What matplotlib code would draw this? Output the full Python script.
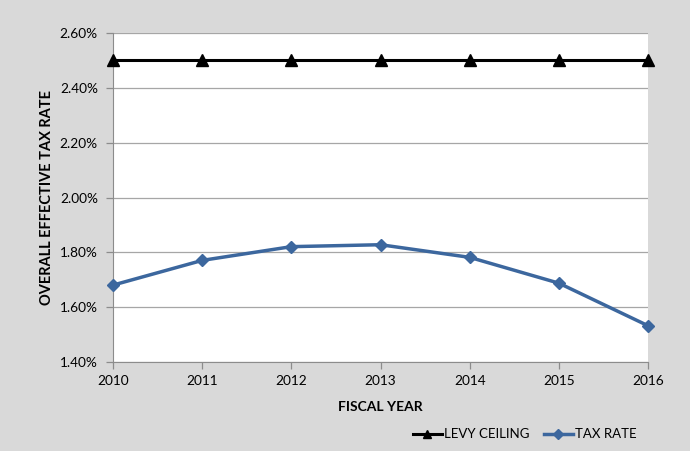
import numpy as np
import matplotlib.pyplot as plt
from matplotlib.ticker import PercentFormatter

years = [2010, 2011, 2012, 2013, 2014, 2015, 2016]
levy_ceiling = [2.50, 2.50, 2.50, 2.50, 2.50, 2.50, 2.50]
tax_rate = [1.681, 1.771, 1.821, 1.828, 1.782, 1.688, 1.533]

plt.rcParams['font.family'] = ['Lato', 'DejaVu Sans']

fig = plt.figure(figsize=(6.9, 4.51), dpi=100, facecolor='#d9d9d9')
ax = fig.add_axes([0.164, 0.197, 0.775, 0.730])
ax.set_facecolor('white')

ax.plot(years, levy_ceiling, color='black', lw=2.2, marker='^', ms=8, label='LEVY CEILING', clip_on=False, zorder=3)
ax.plot(years, tax_rate, color='#3c679e', lw=2.5, marker='D', ms=6.5, label='TAX RATE', clip_on=False, zorder=3)

ax.set_xlim(2010, 2016)
ax.set_ylim(1.40, 2.60)
ax.set_xticks(years)
ax.set_yticks(np.arange(1.40, 2.61, 0.20))
ax.yaxis.set_major_formatter(PercentFormatter(decimals=2))
ax.grid(axis='y', color='#a6a6a6', lw=0.9)
ax.set_axisbelow(True)
for s in ['top', 'right']:
    ax.spines[s].set_visible(False)
for s in ['left', 'bottom']:
    ax.spines[s].set_color('#8c8c8c')
ax.tick_params(colors='#8c8c8c', labelcolor='black', labelsize=9.8, length=5, width=0.9)
ax.tick_params(axis='y', pad=6)
ax.tick_params(axis='x', pad=4)

ax.set_xlabel('FISCAL YEAR', fontsize=10, fontweight='bold', labelpad=10)
ax.set_ylabel('OVERALL EFFECTIVE TAX RATE', fontsize=10.5, fontweight='bold', labelpad=4)

fig.legend(loc='center', bbox_to_anchor=(0.76, 0.037), ncol=2, frameon=False,
           fontsize=9.5, handlelength=2.2, handletextpad=0.15, columnspacing=1.1,
           markerscale=0.75)

fig.savefig('out.png', dpi=100, facecolor=fig.get_facecolor())
